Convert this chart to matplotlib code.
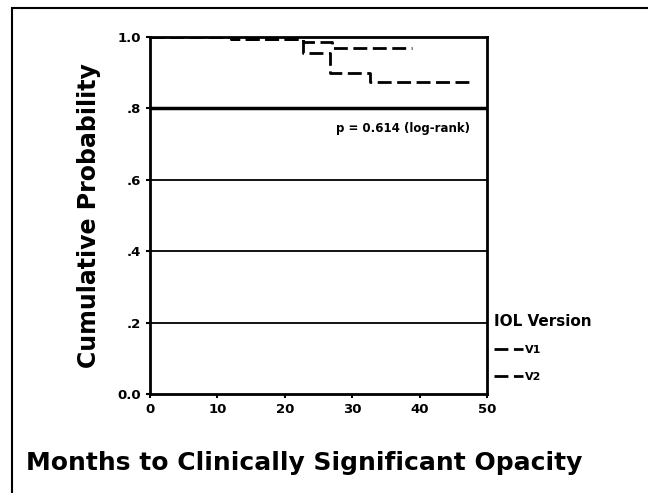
import matplotlib
matplotlib.use("Agg")
import matplotlib.pyplot as plt
from matplotlib.patches import Rectangle

# Data
v1_months = [0, 12, 22.7, 27, 38.9]
v1_surv = [1.0, 0.995, 0.985, 0.97, 0.97]
v2_months = [0, 12, 22.7, 26.7, 32.6, 47.5]
v2_surv = [1.0, 0.995, 0.955, 0.90, 0.875, 0.875]
series_labels = ["V1", "V2"]
y_ticks = [0.0, 0.2, 0.4, 0.6, 0.8, 1.0]
y_ticklabels = ["0.0", ".2", ".4", ".6", ".8", "1.0"]
x_ticks = [0, 10, 20, 30, 40, 50]
p_text = "p = 0.614 (log-rank)"

plt.rcParams['font.family'] = ['DejaVu Sans']
fig = plt.figure(figsize=(6.48, 4.93), dpi=100)
fig.patches.append(Rectangle((12/648, -0.1), 1.2, 1 - 8/493 + 0.1, transform=fig.transFigure,
                             fill=False, lw=1.5, edgecolor='black'))
ax = fig.add_axes([150/648, 1 - 394/493, 337/648, 357/493])

ax.plot(v1_months, v1_surv, drawstyle='steps-post', color='black', lw=2,
        linestyle=(0, (5, 2)), label=series_labels[0])
ax.plot(v2_months, v2_surv, drawstyle='steps-post', color='black', lw=2,
        linestyle=(0, (5, 2)), label=series_labels[1])

for y in [0.2, 0.4, 0.6]:
    ax.axhline(y, color='black', lw=1.3, zorder=0)
ax.axhline(0.8, color='black', lw=2.5, zorder=0)

ax.set_xlim(0, 50)
ax.set_ylim(0, 1.0)
ax.set_yticks(y_ticks)
ax.set_yticklabels(y_ticklabels, fontweight='bold', fontsize=9.5)
ax.set_xticks(x_ticks)
ax.set_xticklabels([str(t) for t in x_ticks], fontweight='bold', fontsize=9.5)
ax.tick_params(direction='out', length=3, width=1.5)
for s in ax.spines.values():
    s.set_linewidth(2)

ax.set_ylabel("Cumulative Probability", fontsize=17, fontweight='heavy', labelpad=12)
fig.text(304/648, 1 - 463/493, "Months to Clinically Significant Opacity",
         fontsize=18, fontweight='heavy', ha='center', va='center')

ax.text(0.95, 0.745, p_text, transform=ax.transAxes, ha='right', va='center',
        fontsize=8.5, fontweight='bold')

leg = ax.legend(title="IOL Version", loc='upper left', bbox_to_anchor=(1.02, 0.225),
                frameon=False, fontsize=8, handlelength=2.6, handletextpad=0.2,
                labelspacing=1.5, borderaxespad=0.0, borderpad=0.0)
leg.get_title().set_fontweight('bold')
leg.get_title().set_fontsize(11)
leg._legend_box.align = "left"
for t in leg.get_texts():
    t.set_fontweight('bold')

fig.savefig("out.png", dpi=100)
